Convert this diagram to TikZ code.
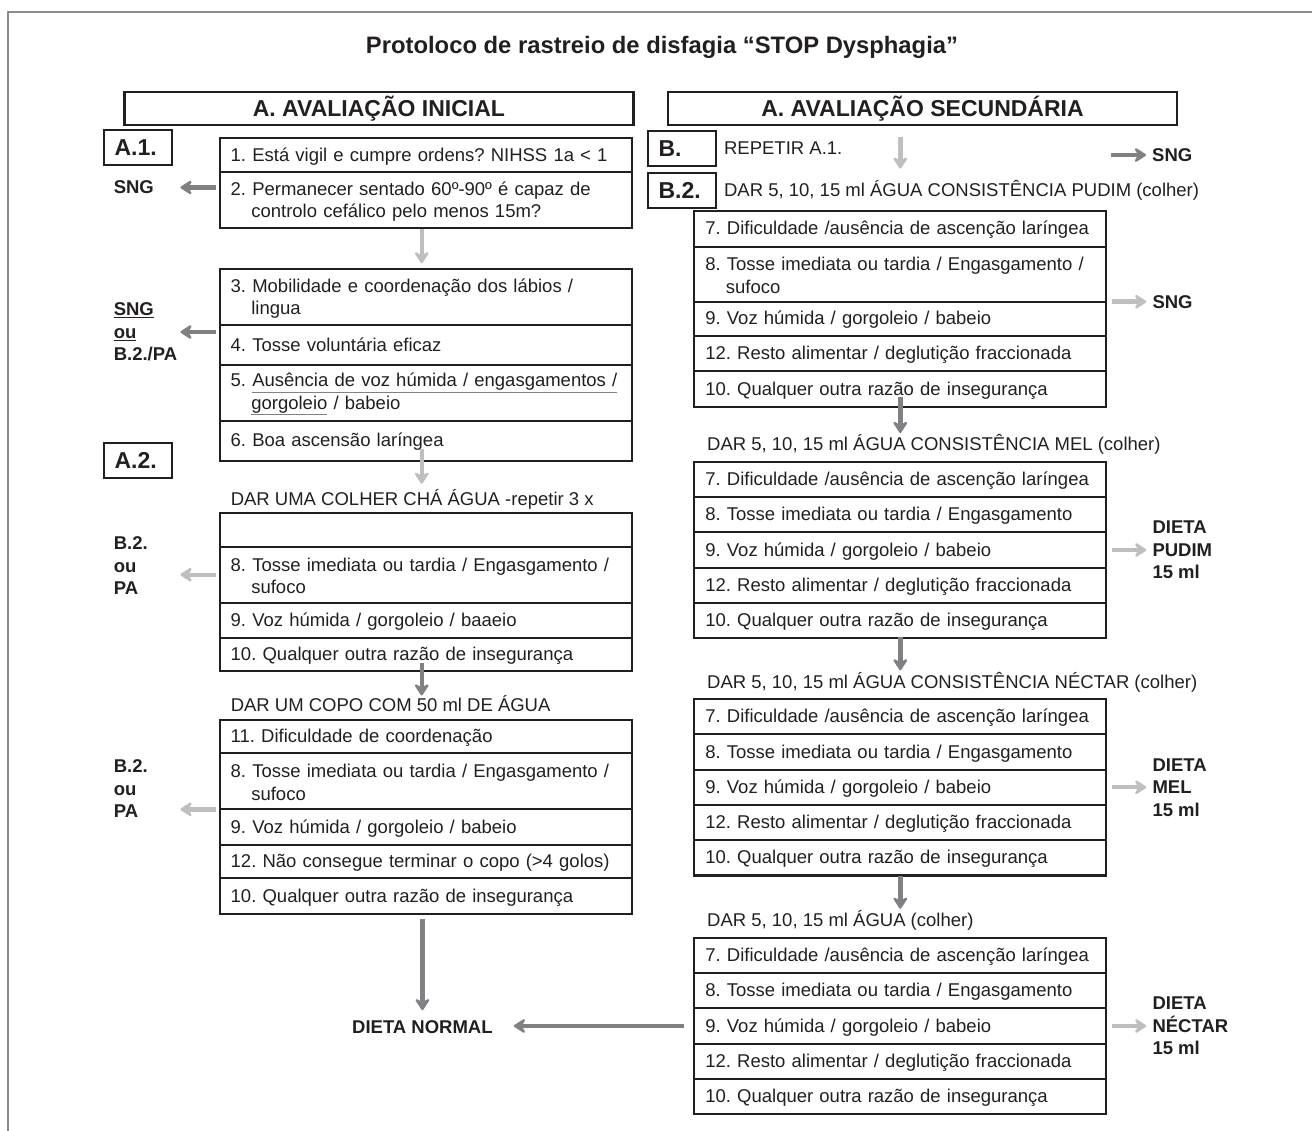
\documentclass[tikz,border=0pt]{standalone}
\usepackage{fontspec}
\setmainfont{Liberation Sans}
\usepackage{xcolor}
\definecolor{stopink}{RGB}{35,31,32}
\definecolor{stopdark}{RGB}{128,129,132}
\definecolor{stoplight}{RGB}{190,191,193}
\definecolor{stopframe}{RGB}{140,140,140}
\usetikzlibrary{arrows.meta,positioning}
\newcommand{\rowfont}{\fontsize{18.5}{22.7}\selectfont}
\newcommand{\labfont}{\fontsize{18.5}{22.5}\selectfont\bfseries}
\newcommand{\hdrfont}{\fontsize{23}{26}\selectfont\bfseries}
\newcommand{\ttlfont}{\fontsize{23.8}{28}\selectfont\bfseries}
\newcommand{\indnext}{\hspace*{20.6pt}}
\newcommand{\greyul}[1]{\textcolor{stopdark}{\underline{\textcolor{stopink}{#1}}}}
\frenchspacing

\begin{document}
\begin{tikzpicture}[x=1pt,y=-1pt,
  rowbox/.style={draw=stopink,line width=2.2pt,outer sep=0pt,anchor=north west,
    text width=390pt,inner xsep=11pt,inner ysep=0pt,minimum height=35pt,
    align=left,font=\rowfont,text=stopink,execute at begin node=\vphantom{Ág}},
  tallbox/.style={rowbox,minimum height=56pt},
  tagbox/.style={draw=stopink,line width=2.2pt,anchor=north west,text width=46.5pt,
    inner xsep=10.5pt,inner ysep=0pt,minimum height=35pt,align=left,font=\hdrfont,text=stopink},
  hdrbox/.style={draw=stopink,line width=2.2pt,anchor=north west,minimum width=509pt,
    minimum height=33.3pt,inner sep=0pt,font=\hdrfont,text=stopink},
  plainline/.style={anchor=base west,inner sep=0pt,font=\rowfont,text=stopink},
  outcome/.style={inner sep=0pt,align=left,font=\labfont,text=stopink},
  leftout/.style={outcome,text width=66.4pt,anchor=north west},
  darkarrow/.style={draw=stopdark,line width=4.4pt,-{Stealth[length=14pt,width=18pt,inset=5pt,round]}},
  lightarrow/.style={darkarrow,draw=stoplight}
]
  \useasboundingbox (0,0) rectangle (1312,1131);
  \draw[stopframe,line width=1.8pt] (7.6,1131) -- (7.6,11.7) -- (1312,11.7);
  \node[font=\ttlfont,text=stopink,anchor=base,inner sep=0pt] (title) at (662,53.3)
    {Protoloco de rastreio de disfagia “STOP Dysphagia”};
  % Headers and tags
  \node[hdrbox] (hdrI) at (123.3,90.7) {A. AVALIAÇÃO INICIAL};
  \node[hdrbox] (hdrS) at (666.9,90.7) {A. AVALIAÇÃO SECUNDÁRIA};
  \node[tagbox] (tagA1) at (103,129.3) {A.1.};
  \node[tagbox] (tagA2) at (103,441.7) {A.2.};
  \node[tagbox] (tagB) at (647,130) {B.};
  \node[tagbox] (tagB2) at (647,171.7) {B.2.};

  % Left column: initial assessment
  \node[rowbox,minimum height=34pt] (i1) at (219.7,138.3) {1. Está vigil e cumpre ordens? NIHSS 1a < 1};
  \node[tallbox,below=0pt of i1] (i2) {2. Permanecer sentado 60º-90º é capaz de\\\indnext controlo cefálico pelo menos 15m?};
  \node[tallbox] (i3) at (219.7,269.3) {3. Mobilidade e coordenação dos lábios /\\\indnext lingua};
  \node[rowbox,minimum height=39.5pt,below=0pt of i3] (i4) {4. Tosse voluntária eficaz};
  \node[tallbox,below=0pt of i4] (i5) {5. \greyul{Ausência de voz húmida / engasgamentos /}\\\indnext\greyul{gorgoleio} / babeio};
  \node[rowbox,minimum height=40pt,below=0pt of i5] (i6) {6. Boa ascensão laríngea};
  \node[plainline] (darCha) at (230.6,505) {DAR UMA COLHER CHÁ ÁGUA -repetir 3 x};
  \node[rowbox,minimum height=34pt] (w0) at (219.7,512.7) {};
  \node[tallbox,below=0pt of w0] (w8) {8. Tosse imediata ou tardia / Engasgamento /\\\indnext sufoco};
  \node[rowbox,minimum height=35.6pt,below=0pt of w8] (w9) {9. Voz húmida / gorgoleio / baaeio};
  \node[rowbox,minimum height=32.7pt,below=0pt of w9] (w10) {10. Qualquer outra razão de insegurança};
  \node[plainline] (darCopo) at (230.6,711.7) {DAR UM COPO COM 50 ml DE ÁGUA};
  \node[rowbox,minimum height=33.3pt] (c11) at (219.7,720) {11. Dificuldade de coordenação};
  \node[tallbox,below=0pt of c11] (c8) {8. Tosse imediata ou tardia / Engasgamento /\\\indnext sufoco};
  \node[rowbox,minimum height=35.7pt,below=0pt of c8] (c9) {9. Voz húmida / gorgoleio / babeio};
  \node[rowbox,minimum height=33.3pt,below=0pt of c9] (c12) {12. Não consegue terminar o copo (>4 golos)};
  \node[rowbox,minimum height=35.7pt,below=0pt of c12] (c10) {10. Qualquer outra razão de insegurança};
  % Left outcomes
  \node[leftout] (sng1) at (113.6,180.7) {SNG};
  \node[leftout] (sng2) at (113.6,302.7) {\underline{SNG}\\\underline{ou}\\B.2./PA};
  \node[leftout] (pa1) at (113.6,536.7) {B.2.\\ou\\PA};
  \node[leftout] (pa2) at (113.6,759.4) {B.2.\\ou\\PA};
  \node[outcome,anchor=base] (normal) at (422.4,1033.3) {DIETA NORMAL};

  % Right column: secondary assessment
  \node[plainline] (repA) at (723.9,155) {REPETIR A.1.};
  \node[plainline] (darPudim) at (723.9,196.7) {DAR 5, 10, 15 ml ÁGUA CONSISTÊNCIA PUDIM (colher)};
  \node[rowbox,minimum height=36pt] (p7) at (694.3,210.7) {7. Dificuldade /ausência de ascenção laríngea};
  \node[tallbox,minimum height=55pt,below=0pt of p7] (p8) {8. Tosse imediata ou tardia / Engasgamento /\\\indnext sufoco};
  \node[rowbox,minimum height=34.3pt,below=0pt of p8] (p9) {9. Voz húmida / gorgoleio / babeio};
  \node[rowbox,minimum height=34.7pt,below=0pt of p9] (p12) {12. Resto alimentar / deglutição fraccionada};
  \node[rowbox,minimum height=36.6pt,below=0pt of p12] (p10) {10. Qualquer outra razão de insegurança};
  \node[plainline] (darMel) at (707,450) {DAR 5, 10, 15 ml ÁGUA CONSISTÊNCIA MEL (colher)};
  \node[plainline] (darNectar) at (707,688.3) {DAR 5, 10, 15 ml ÁGUA CONSISTÊNCIA NÉCTAR (colher)};
  \node[plainline] (darAgua) at (707,926.7) {DAR 5, 10, 15 ml ÁGUA (colher)};
  \foreach \grp/\top in {m/461.7,n/699,g/937.7}{
    \node[rowbox,minimum height=35.3pt] (\grp7) at (694.3,\top) {7. Dificuldade /ausência de ascenção laríngea};
    \node[rowbox,minimum height=35.3pt,below=0pt of \grp7] (\grp8) {8. Tosse imediata ou tardia / Engasgamento};
    \node[rowbox,minimum height=35.3pt,below=0pt of \grp8] (\grp9) {9. Voz húmida / gorgoleio / babeio};
    \node[rowbox,minimum height=35.3pt,below=0pt of \grp9] (\grp12) {12. Resto alimentar / deglutição fraccionada};
    \node[rowbox,minimum height=35.3pt,below=0pt of \grp12] (\grp10) {10. Qualquer outra razão de insegurança};
  }
  % Right outcomes
  \coordinate (bsrc) at (1111.4,155);
  \node[outcome,right=40.6pt of bsrc] (sngB) {SNG};
  \node[outcome,right=46pt of p8.south east] (sngP) {SNG};
  \node[outcome,right=46pt of m9] (dPudim) {DIETA\\PUDIM\\15 ml};
  \node[outcome,right=46pt of n9] (dMel) {DIETA\\MEL\\15 ml};
  \node[outcome,right=46pt of g9] (dNectar) {DIETA\\NÉCTAR\\15 ml};

  % Arrows
  \draw[darkarrow,shorten <=4pt] (i2.west |- sng1.east) -- (sng1.east);
  \draw[darkarrow,shorten <=4pt] (i4.west |- sng2.east) -- (sng2.east);
  \draw[lightarrow,shorten <=4pt] (w8.west) -- (w8.west -| pa1.east);
  \draw[lightarrow,shorten <=4pt] (c8.south west) -- (c8.south west -| pa2.east);
  \draw[lightarrow,shorten <=1pt,shorten >=6pt] ([xshift=-4pt]i2.south) -- ([xshift=-4pt]i3.north);
  \draw[lightarrow,shorten <=-11.7pt,shorten >=5pt] ([xshift=-4pt]i6.south) -- ([xshift=-4pt]i6.south |- darCha.north);
  \draw[darkarrow,shorten <=-7.7pt] ([xshift=-4pt]w10.south) -- ([xshift=-4pt]w10.south |- darCopo.north);
  \draw[darkarrow,shorten <=5.3pt,shorten >=10pt] (normal.north |- c10.south) -- (normal.north);
  \draw[lightarrow,shorten <=11pt,shorten >=11.7pt] (p7.north |- hdrS.south) -- (p7.north |- darPudim.north);
  \draw[darkarrow,shorten <=-10pt,shorten >=0.6pt] (p10.south) -- (p10.south |- darMel.north);
  \draw[darkarrow,shorten <=-1.5pt,shorten >=1.6pt] (m10.south) -- (m10.south |- darNectar.north);
  \draw[darkarrow,shorten >=1.7pt] (n10.south) -- (n10.south |- darAgua.north);
  \draw[darkarrow,shorten >=6pt] (bsrc) -- (sngB.west);
  \draw[lightarrow,shorten <=6pt,shorten >=6pt] (p8.south east) -- (sngP.west);
  \draw[lightarrow,shorten <=6pt,shorten >=6pt] (m9.east) -- (dPudim.west);
  \draw[lightarrow,shorten <=6pt,shorten >=6pt] (n9.east) -- (dMel.west);
  \draw[lightarrow,shorten <=6pt,shorten >=6pt] (g9.east) -- (dNectar.west);
  \draw[darkarrow,shorten <=10pt,shorten >=21pt] (g9.west) -- (normal.east |- g9.west);
\end{tikzpicture}
\end{document}
